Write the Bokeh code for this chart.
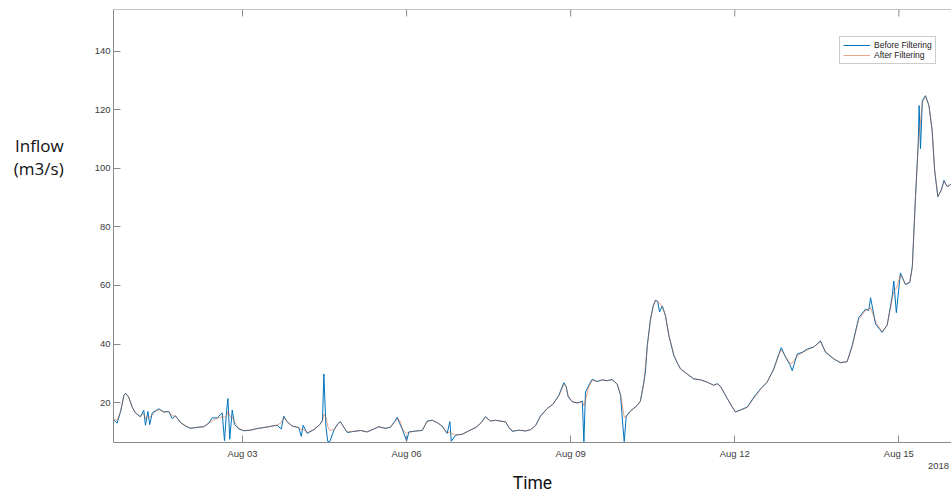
import json
import pandas as pd
from bokeh.plotting import figure
from bokeh.models import (Range1d, FixedTicker, DatetimeTickFormatter, LinearAxis, Span,
                          Legend, LegendItem, CustomJSTickFormatter, ColumnDataSource)
from bokeh.embed import file_html
from bokeh.resources import INLINE

# ---------------- data ----------------
START = "2018-08-01 00:00"          # time origin for HOURS
HOURS = [
    -9, -7, -5.5, -4, -3.3, -2, -0.4, 1, 3.2, 4.7,
    5.4, 6.5, 7.3, 8.4, 9.8, 11.3, 13.5, 15.7, 17.2, 18.6,
    20.8, 23, 25.2, 28.1, 31, 33.2, 34.7, 36.9, 39.1, 40.1,
    41, 41.6, 42.4, 43.5, 44.5, 46.4, 48.6, 51.5, 54.5, 57.4,
    60.3, 63.2, 65, 66.1, 67.6, 69.8, 72.7, 73.8, 74.6, 76.4,
    79.3, 81.9, 83.1, 83.7, 84.6, 85.4, 86.3, 88.1, 89.8, 91,
    92.5, 94, 96.9, 99.8, 102.7, 105.6, 107.8, 110.8, 112.9, 114.7,
    115.9, 116.9, 118.1, 119.1, 120, 121, 123.9, 126.9, 129, 131.2,
    133.4, 135.6, 137.8, 139, 139.6, 141.5, 144.4, 147.3, 150.3, 152.4,
    154.6, 156.8, 159, 161.2, 163.4, 164.9, 166.4, 169.3, 172.2, 174.4,
    176.6, 178.8, 181.7, 184.3, 186.8, 189, 190, 190.9, 192.7, 194.9,
    197.1, 197.8, 198.5, 200, 201.5, 203.6, 205.8, 208, 210.2, 212.4,
    213.9, 214.9, 215.5, 216.4, 218.3, 221.2, 222.6, 224.1, 224.8, 225.6,
    227, 228.2, 229.2, 230.2, 231, 232.2, 233.6, 235.1, 237.3, 238.8,
    240.2, 243.1, 246, 249, 251.9, 254.8, 256.3, 257.8, 260.7, 262.9,
    264.3, 266.5, 269.5, 272.4, 275.3, 278.2, 281.1, 283.3, 284.4, 286.3,
    288.2, 289.2, 291.4, 293.6, 295.8, 298.7, 301.6, 303.8, 307.5, 310.4,
    313.3, 315.5, 318.4, 321.4, 322.8, 323.6, 325.8, 328.7, 330.9, 333.1,
    333.8, 334.9, 336.7, 338.9, 340.8, 341.9, 343.3, 344.5, 344.9, 345.5,
    346.3, 347.7, 349.2, 350.6, 351.7, 353.1, 354.6, 355.8, 357.2, 358.7,
    361, 364,
]
BEFORE = [
    14.5, 13.0, 17.0, 22.5, 23.2, 22.0, 18.5, 16.5, 15.2, 17.4,
    12.3, 17.0, 12.5, 16.5, 17.2, 17.9, 16.8, 17.0, 14.5, 15.5,
    13.2, 12.0, 11.2, 11.6, 11.8, 13.0, 14.8, 14.8, 16.5, 7.0,
    17.0, 21.4, 7.5, 17.5, 12.5, 11.0, 10.4, 10.6, 11.2, 11.5,
    11.9, 12.3, 11.0, 15.4, 13.5, 12.0, 11.5, 8.5, 12.3, 9.5,
    10.8, 12.5, 14.0, 29.8, 12.0, 6.8, 6.7, 10.6, 12.8, 13.5,
    11.5, 9.8, 10.2, 10.5, 10.0, 11.0, 11.8, 11.2, 11.6, 13.5,
    15.0, 13.0, 11.0, 8.9, 6.8, 10.0, 10.3, 10.5, 13.7, 14.0,
    13.2, 12.0, 9.5, 13.5, 6.8, 8.9, 9.2, 10.4, 11.5, 12.9,
    15.2, 13.7, 14.0, 13.7, 13.5, 11.5, 10.2, 10.6, 10.3, 10.8,
    12.2, 15.5, 18.0, 19.5, 22.5, 26.8, 25.5, 22.0, 20.3, 19.9,
    20.5, 6.7, 23.6, 26.0, 28.0, 27.2, 27.8, 27.5, 27.9, 26.3,
    22.5, 12.0, 6.7, 15.5, 17.2, 19.1, 20.5, 27.0, 30.5, 39.4,
    48.5, 53.0, 55.0, 54.5, 51.0, 53.0, 49.6, 42.8, 36.0, 33.5,
    31.5, 29.8, 28.1, 27.8, 27.0, 25.9, 26.5, 25.5, 21.4, 18.5,
    16.8, 17.5, 18.5, 21.9, 24.7, 27.0, 31.5, 36.5, 38.8, 35.5,
    33.0, 30.9, 36.6, 37.2, 38.3, 39.0, 41.1, 37.2, 34.9, 33.6,
    34.0, 39.4, 49.0, 51.9, 51.5, 55.8, 46.8, 44.0, 46.5, 56.4,
    61.5, 50.7, 64.3, 60.3, 61.0, 66.5, 90.3, 108.4, 121.4, 106.7,
    123.1, 124.8, 121.4, 112.9, 99.3, 90.3, 92.6, 95.9, 93.7, 94.5,
    95.0, 94.0,
]
AFTER = [
    14.5, 14.0, 17.0, 22.5, 23.0, 22.0, 18.5, 16.5, 15.2, 16.3,
    14.5, 15.5, 15.0, 15.8, 17.0, 17.6, 16.8, 16.9, 15.5, 15.4,
    13.3, 12.1, 11.3, 11.5, 11.8, 12.9, 13.8, 14.6, 15.2, 15.0,
    15.5, 17.0, 15.5, 15.0, 13.5, 11.2, 10.5, 10.6, 11.1, 11.5,
    11.9, 12.3, 13.2, 15.0, 13.6, 12.1, 11.4, 10.8, 11.0, 9.8,
    10.8, 12.5, 13.5, 16.0, 15.0, 12.0, 10.5, 10.7, 12.6, 13.4,
    11.6, 10.0, 10.2, 10.5, 10.1, 11.0, 11.7, 11.3, 11.7, 13.3,
    14.4, 14.0, 11.2, 10.0, 9.5, 9.9, 10.3, 10.6, 13.5, 14.0,
    13.2, 12.0, 9.7, 10.0, 9.5, 9.0, 9.2, 10.3, 11.5, 12.8,
    15.0, 13.8, 14.0, 13.7, 13.4, 11.7, 10.4, 10.6, 10.4, 10.8,
    12.1, 15.3, 17.9, 19.6, 22.3, 26.2, 25.6, 22.4, 20.4, 19.9,
    20.3, 19.0, 21.0, 25.5, 27.6, 27.3, 27.7, 27.5, 27.8, 26.4,
    22.8, 18.0, 15.0, 15.2, 17.0, 19.0, 20.6, 26.5, 32.5, 39.0,
    48.0, 52.8, 54.8, 54.6, 54.0, 52.8, 49.8, 43.0, 36.3, 33.6,
    31.6, 29.8, 28.2, 27.7, 27.0, 26.0, 26.3, 25.4, 21.5, 18.6,
    16.9, 17.4, 18.4, 21.5, 24.5, 27.0, 31.3, 36.2, 38.0, 35.8,
    33.4, 33.5, 36.0, 37.0, 38.0, 39.0, 40.8, 37.5, 35.0, 33.7,
    34.0, 39.0, 48.5, 51.5, 51.8, 52.5, 47.5, 44.2, 46.5, 55.5,
    58.0, 59.0, 63.5, 60.5, 61.2, 66.0, 90.0, 108.0, 112.0, 116.0,
    122.5, 124.5, 121.5, 113.0, 99.5, 90.5, 92.3, 95.5, 93.8, 94.4,
    95.0, 94.0,
]
SERIES_NAMES = ["Before Filtering", "After Filtering"]
XTICK_DATES = ["2018-08-03", "2018-08-06", "2018-08-09", "2018-08-12", "2018-08-15"]
YTICKS = [20, 40, 60, 80, 100, 120, 140]
YEAR_LABEL = "2018"
YEAR_LABEL_HOURS = 355.5
X_LIMITS_HOURS = [-8.6, 359.1]
Y_LIMITS = [6.4, 154.2]
Y_LABEL = ["Inflow", "(m3/s)"]
X_LABEL = "Time"

# ---------------- build ----------------
base = pd.Timestamp(START)
epoch = pd.Timestamp("1970-01-01")


def ms(ts):
    return (pd.Timestamp(ts) - epoch).total_seconds() * 1000.0


times = base + pd.to_timedelta(HOURS, unit="h")
src = ColumnDataSource(dict(t=times, before=BEFORE, after=AFTER))

x0 = base + pd.Timedelta(hours=X_LIMITS_HOURS[0])
x1 = base + pd.Timedelta(hours=X_LIMITS_HOURS[1])

AX = "#8a8a8a"
TXT = "#3c3c3c"
TICK_FONT = "Liberation Sans"
FRAME_H = 435  # px, frame height (for inward top ticks)

p = figure(width=951, height=495, x_axis_type="datetime",
           x_range=Range1d(x0, x1), y_range=Range1d(*Y_LIMITS),
           output_backend="svg", toolbar_location=None,
           min_border_left=113, min_border_right=0, min_border_top=9,
           min_border_bottom=51)
p.outline_line_color = None
p.xgrid.visible = False
p.ygrid.visible = False
p.background_fill_color = "white"
p.border_fill_color = "white"

r1 = p.line("t", "before", source=src, line_color="#0072BD", line_width=1.0)
r2 = p.line("t", "after", source=src, line_color="#D95319", line_width=1.0, line_alpha=0.5)

xticks = [ms(d) for d in XTICK_DATES]
fmt = "%b %d"
xa = p.xaxis[0]
ya = p.yaxis[0]
xa.ticker = FixedTicker(ticks=xticks)
xa.formatter = DatetimeTickFormatter(days=fmt, months=fmt, hours=fmt, hourmin=fmt,
                                     minutes=fmt, years=fmt)
for ax in (xa, ya):
    ax.major_tick_in = 7
    ax.major_tick_out = 0
    ax.minor_tick_line_color = None
    ax.axis_line_color = AX
    ax.major_tick_line_color = AX
    ax.major_label_text_font = TICK_FONT
    ax.major_label_text_font_size = "9.5px"
    ax.major_label_text_color = TXT
xa.major_label_standoff = 5
ya.major_label_standoff = 3
ya.ticker = FixedTicker(ticks=YTICKS)

# y label: horizontal, two lines, placed above the middle of the axis
ya.axis_label = "\n".join(Y_LABEL + [""] * 6)
ya.axis_label_text_font = "Open Sans"
ya.axis_label_text_font_size = "17px"
ya.axis_label_text_font_style = "normal"
ya.axis_label_text_color = "#111111"
ya.axis_label_text_line_height = 1.0
ya.axis_label_standoff = 28
try:
    ya.axis_label_orientation = "horizontal"
except AttributeError:
    pass

# top border with inward ticks
p.add_layout(Span(location=Y_LIMITS[1], dimension="width", line_color=AX, line_width=1))
tick_len = 7.0 / FRAME_H * (Y_LIMITS[1] - Y_LIMITS[0])
p.segment(x0=[pd.Timestamp(d) for d in XTICK_DATES], x1=[pd.Timestamp(d) for d in XTICK_DATES],
          y0=[Y_LIMITS[1]] * len(XTICK_DATES), y1=[Y_LIMITS[1] - tick_len] * len(XTICK_DATES),
          line_color=AX, line_width=1)

# year label under the date ticks + axis title
year_axis = LinearAxis(ticker=FixedTicker(ticks=[ms(base + pd.Timedelta(hours=YEAR_LABEL_HOURS))]),
                       formatter=CustomJSTickFormatter(code="return " + json.dumps(YEAR_LABEL)),
                       axis_line_color=None, major_tick_line_color=None,
                       major_tick_in=0, major_tick_out=0,
                       minor_tick_line_color=None, major_label_standoff=1,
                       major_label_text_font=TICK_FONT, major_label_text_font_size="9.5px",
                       major_label_text_color=TXT,
                       axis_label=X_LABEL, axis_label_standoff=1,
                       axis_label_text_font="Roboto", axis_label_text_font_size="17.5px",
                       axis_label_text_font_style="normal", axis_label_text_color="#111111")
p.add_layout(year_axis, "below")

legend = Legend(items=[LegendItem(label=SERIES_NAMES[0], renderers=[r1]),
                       LegendItem(label=SERIES_NAMES[1], renderers=[r2])],
                location=(726, 378))
legend.glyph_width = 27
legend.glyph_height = 10
legend.label_height = 10
legend.spacing = 0
legend.padding = 3
legend.margin = 0
legend.label_standoff = 4
legend.label_text_font = TICK_FONT
legend.label_text_font_size = "8.5px"
legend.label_text_color = "#222222"
legend.border_line_color = "#9a9a9a"
legend.background_fill_alpha = 1
p.add_layout(legend)

open("out.html", "w").write(file_html(p, INLINE))
